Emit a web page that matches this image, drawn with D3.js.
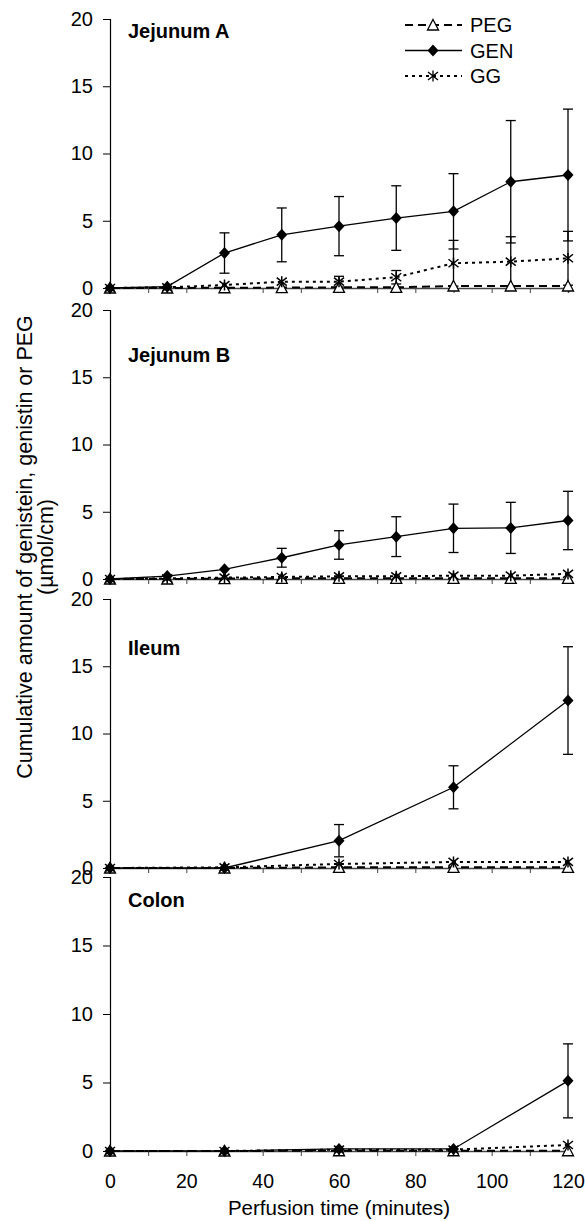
<!DOCTYPE html>
<html>
<head>
<meta charset="utf-8">
<script src="https://cdn.jsdelivr.net/npm/d3@7"></script>
<style>
  body { margin: 0; background: #fff; }
  svg { display: block; font-family: "Liberation Sans", Arial, sans-serif; }
</style>
</head>
<body>
<div id="chart"></div>
<script>
// 数据
const panelNames = ["Jejunum A", "Jejunum B", "Ileum", "Colon"];
const seriesNames = ["PEG", "GEN", "GG"];
const timesFine = [0, 15, 30, 45, 60, 75, 90, 105, 120];
const timesCoarse = [0, 30, 60, 90, 120];
const yTicks = [0, 5, 10, 15, 20];
const xTickLabels = [0, 20, 40, 60, 80, 100, 120];

// Jejunum A
const pegA = [0, 0, 0.02, 0.03, 0.05, 0.05, 0.15, 0.15, 0.15];
const genA = [0, 0.1, 2.6, 3.95, 4.6, 5.2, 5.7, 7.9, 8.4];
const genAErr = [0, 0, 1.5, 2.0, 2.2, 2.4, 2.8, 4.55, 4.9];
const ggA = [0, 0.05, 0.22, 0.47, 0.47, 0.8, 1.84, 1.96, 2.21];
const ggAErr = [0, 0, 0, 0, 0.4, 0.5, 1.7, 1.85, 2.0];

// Jejunum B
const pegB = [0, 0, 0.03, 0.05, 0.05, 0.05, 0.05, 0.05, 0.05];
const genB = [0, 0.22, 0.72, 1.58, 2.53, 3.15, 3.77, 3.8, 4.35];
const genBErr = [0, 0, 0, 0.7, 1.06, 1.48, 1.8, 1.9, 2.17];
const ggB = [0, 0.05, 0.1, 0.15, 0.2, 0.2, 0.25, 0.25, 0.38];
const ggBErr = [0, 0, 0, 0, 0, 0, 0, 0, 0];

// Ileum
const pegC = [0, 0, 0.05, 0.05, 0.05];
const genC = [0, 0, 2.03, 6.0, 12.45];
const genCErr = [0, 0, 1.2, 1.6, 4.0];
const ggC = [0, 0.05, 0.3, 0.45, 0.45];
const ggCErr = [0, 0, 0, 0, 0];

// Colon
const pegD = [0, 0, 0.02, 0.02, 0.02];
const genD = [0, 0, 0.15, 0.15, 5.12];
const genDErr = [0, 0, 0, 0, 2.7];
const ggD = [0, 0, 0.1, 0.1, 0.44];
const ggDErr = [0, 0, 0, 0, 0];

const panels = [
    { name: panelNames[0], times: timesFine, peg: pegA, gen: genA, genErr: genAErr, gg: ggA, ggErr: ggAErr },
    { name: panelNames[1], times: timesFine, peg: pegB, gen: genB, genErr: genBErr, gg: ggB, ggErr: ggBErr },
    { name: panelNames[2], times: timesCoarse, peg: pegC, gen: genC, genErr: genCErr, gg: ggC, ggErr: ggCErr },
    { name: panelNames[3], times: timesCoarse, peg: pegD, gen: genD, genErr: genDErr, gg: ggD, ggErr: ggDErr }
];

// 布局
const width = 585, height = 1221;
const panelTop = [19, 310, 599, 877];
const panelBottom = [288, 579, 868, 1151];
const titleDy = [19, 52, 56, 30];
const fontStack = "'Liberation Sans', Arial, sans-serif";

const svg = d3.select("#chart").append("svg")
    .attr("width", width)
    .attr("height", height);

const x = d3.scaleLinear().domain([0, 120]).range([110, 568]);

// 标记形状
const diamond = "M0,-6L5.5,0L0,6L-5.5,0Z";
const triangle = "M0,-5.5L5.5,5L-5.5,5Z";
const star = "M0,-5.5V5.5M-5,-4L5,4M-5,4L5,-4";

function errorBars(g, pts, y) {
    const eb = g.append("g").attr("stroke", "#000").attr("stroke-width", 1.3);
    pts.filter(d => d.e > 0).forEach(d => {
        const cx = x(d.t);
        eb.append("line").attr("x1", cx).attr("x2", cx).attr("y1", y(d.v + d.e)).attr("y2", y(d.v - d.e));
        eb.append("line").attr("x1", cx - 5).attr("x2", cx + 5).attr("y1", y(d.v + d.e)).attr("y2", y(d.v + d.e));
        eb.append("line").attr("x1", cx - 5).attr("x2", cx + 5).attr("y1", y(d.v - d.e)).attr("y2", y(d.v - d.e));
    });
}

panels.forEach((p, i) => {
    const y = d3.scaleLinear().domain([0, 20]).range([panelBottom[i], panelTop[i]]);
    const g = svg.append("g");

    // y 轴
    g.append("g")
        .attr("transform", `translate(${x(0)},0)`)
        .call(d3.axisLeft(y).tickValues(yTicks).tickSize(7).tickPadding(10))
        .call(a => a.select(".domain").attr("stroke", "#000").attr("stroke-width", 1.2))
        .call(a => a.selectAll(".tick line").attr("stroke", "#000"))
        .call(a => a.selectAll(".tick text").attr("font-size", 20).attr("fill", "#000")
            .attr("font-family", fontStack));

    // x 轴
    g.append("g")
        .attr("transform", `translate(0,${y(0)})`)
        .call(d3.axisBottom(x).tickValues(d3.range(10, 121, 10)).tickSize(5).tickFormat(""))
        .call(a => a.select(".domain").attr("stroke", "#444").attr("stroke-width", 1.5))
        .call(a => a.selectAll(".tick line").attr("stroke", "#444"));

    // 标题
    g.append("text")
        .attr("x", 128)
        .attr("y", panelTop[i] + titleDy[i])
        .attr("font-size", 20)
        .attr("font-weight", "bold")
        .text(p.name);

    const line = d3.line().x(d => x(d.t)).y(d => y(d.v));
    const peg = p.times.map((t, k) => ({ t, v: p.peg[k], e: 0 }));
    const gen = p.times.map((t, k) => ({ t, v: p.gen[k], e: p.genErr[k] }));
    const gg = p.times.map((t, k) => ({ t, v: p.gg[k], e: p.ggErr[k] }));

    errorBars(g, gen, y);
    errorBars(g, gg, y);

    g.append("path").datum(peg).attr("d", line)
        .attr("fill", "none").attr("stroke", "#000").attr("stroke-width", 2).attr("stroke-dasharray", "8,5");
    g.append("path").datum(gen).attr("d", line)
        .attr("fill", "none").attr("stroke", "#000").attr("stroke-width", 1.3);
    g.append("path").datum(gg).attr("d", line)
        .attr("fill", "none").attr("stroke", "#000").attr("stroke-width", 2).attr("stroke-dasharray", "3,4");

    g.selectAll(".peg").data(peg).join("path")
        .attr("transform", d => `translate(${x(d.t)},${y(d.v)})`)
        .attr("d", triangle).attr("fill", "#fff").attr("stroke", "#000").attr("stroke-width", 1.3);
    g.selectAll(".gen").data(gen).join("path")
        .attr("transform", d => `translate(${x(d.t)},${y(d.v)})`)
        .attr("d", diamond).attr("fill", "#000");
    g.selectAll(".gg").data(gg).join("path")
        .attr("transform", d => `translate(${x(d.t)},${y(d.v)})`)
        .attr("d", star).attr("fill", "none").attr("stroke", "#000").attr("stroke-width", 1.5);
});

// x 轴刻度标签（仅底部）
svg.append("g").attr("transform", `translate(0,1151)`)
    .call(d3.axisBottom(x).tickValues(xTickLabels).tickSize(0).tickPadding(23))
    .call(a => a.select(".domain").remove())
    .call(a => a.selectAll(".tick text").attr("font-size", 19.5).attr("fill", "#000")
        .attr("font-family", fontStack));

svg.append("text")
    .attr("x", 339)
    .attr("y", 1215)
    .attr("text-anchor", "middle")
    .attr("font-size", 20.5)
    .text("Perfusion time (minutes)");

// y 轴标题
const yt = svg.append("text")
    .attr("transform", "translate(0,547) rotate(-90)")
    .attr("text-anchor", "middle")
    .attr("font-size", 21.5);
yt.append("tspan").attr("x", 0).attr("y", 32).text("Cumulative amount of genistein, genistin or PEG");
yt.append("tspan").attr("x", 0).attr("y", 53).text("(µmol/cm)");

// 图例
const legendRows = [
    { name: seriesNames[0], dash: "8,5", sw: 2, shape: triangle, fill: "#fff", stroke: "#000" },
    { name: seriesNames[1], dash: null, sw: 1.3, shape: diamond, fill: "#000", stroke: "none" },
    { name: seriesNames[2], dash: "3,4", sw: 2, shape: star, fill: "none", stroke: "#000" }
];
const lg = svg.append("g");
legendRows.forEach((r, i) => {
    const cy = 25 + i * 25.5;
    lg.append("line").attr("x1", 405).attr("x2", 462).attr("y1", cy).attr("y2", cy)
        .attr("stroke", "#000").attr("stroke-width", r.sw).attr("stroke-dasharray", r.dash);
    lg.append("path").attr("transform", `translate(433,${cy})`).attr("d", r.shape)
        .attr("fill", r.fill).attr("stroke", r.stroke).attr("stroke-width", 1.3);
    lg.append("text").attr("x", 470).attr("y", cy + 7).attr("font-size", 20).text(r.name);
});
</script>
</body>
</html>
